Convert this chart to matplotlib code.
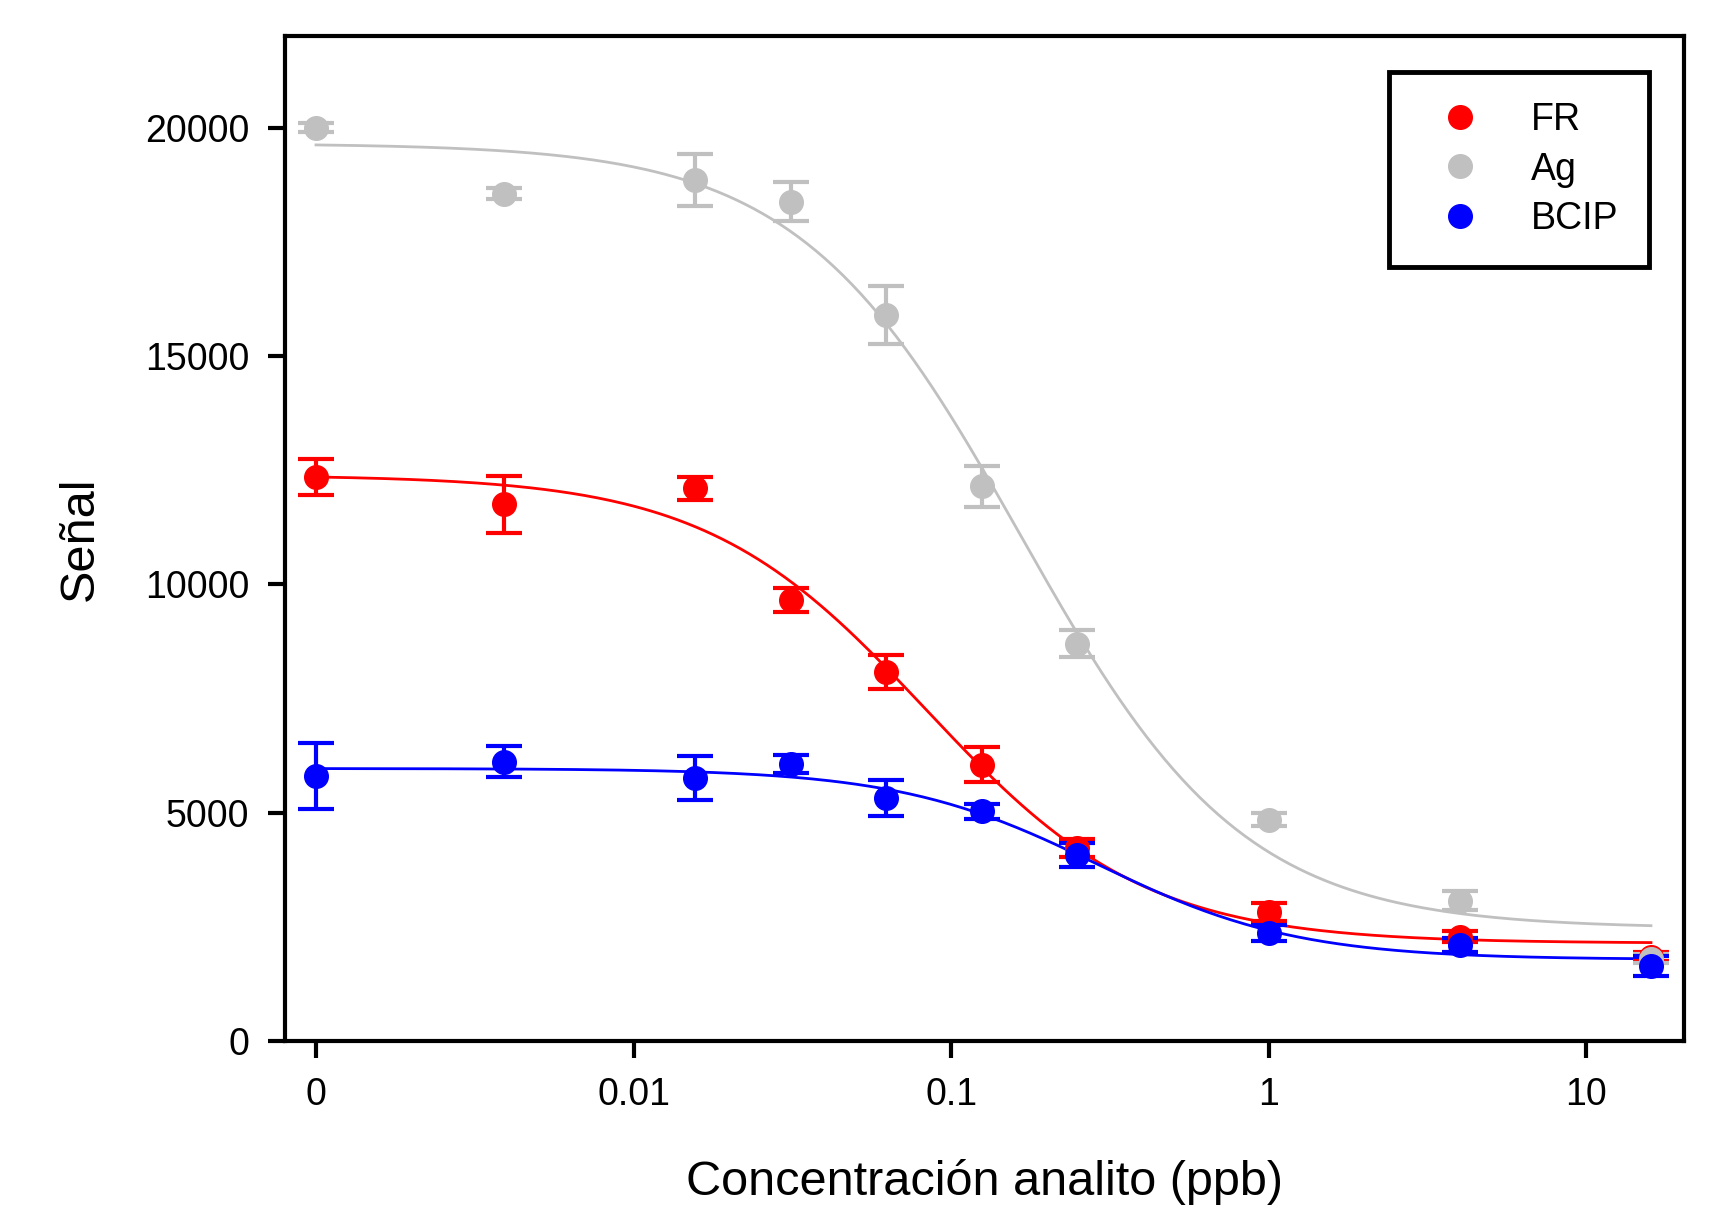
import numpy as np
import matplotlib
matplotlib.use('Agg')
import matplotlib.pyplot as plt
from matplotlib.lines import Line2D

plt.rcParams['font.family'] = ['Liberation Sans', 'DejaVu Sans']

# concentración (ppb); el "0" se dibuja en 0.001
conc = [0.001, 0.0039, 0.0156, 0.03125, 0.0625, 0.125, 0.25, 1, 4, 16]

fr = [12350, 11750, 12100, 9650, 8080, 6050, 4230, 2830, 2280, 1850]
fr_err = [400, 620, 260, 260, 380, 380, 200, 200, 120, 100]

ag = [20000, 18550, 18850, 18380, 15900, 12150, 8700, 4850, 3070, 1800]
ag_err = [100, 120, 575, 420, 630, 450, 290, 150, 210, 100]

bcip = [5800, 6120, 5760, 6060, 5320, 5030, 4070, 2360, 2110, 1640]
bcip_err = [730, 350, 480, 200, 400, 170, 260, 170, 150, 220]

series = [('FR', fr, fr_err, '#ff0000'),
          ('Ag', ag, ag_err, '#c0c0c0'),
          ('BCIP', bcip, bcip_err, '#0000ff')]


def fit_4pl(x, y):
    # ajuste logistico de 4 parametros: busqueda en rejilla + minimos cuadrados
    x = np.asarray(x, float)
    y = np.asarray(y, float)
    lc = np.linspace(-3, 1.3, 431)[:, None, None]
    h = np.linspace(0.3, 4, 371)[None, :, None]
    g = 1.0 / (1.0 + (x / 10.0 ** lc) ** h)
    gm = g.mean(axis=2, keepdims=True)
    ym = y.mean()
    slope = ((g - gm) * (y - ym)).sum(axis=2, keepdims=True) / ((g - gm) ** 2).sum(axis=2, keepdims=True)
    icpt = ym - slope * gm
    sse = ((y - (icpt + slope * g)) ** 2).sum(axis=2)
    i, j = np.unravel_index(np.argmin(sse), sse.shape)
    bottom = icpt[i, j, 0]
    top = bottom + slope[i, j, 0]
    return top, bottom, 10.0 ** lc[i, 0, 0], h[0, j, 0]


fig = plt.figure(figsize=(17.18, 12.07), dpi=100)
ax = fig.add_axes([0.166, 0.1375, 0.814, 0.8325])

xs = np.logspace(-3, np.log10(16), 300)
for name, y, e, c in series:
    top, bottom, ec50, hill = fit_4pl(conc, y)
    ax.plot(xs, bottom + (top - bottom) / (1 + (xs / ec50) ** hill), color=c, lw=2.0, zorder=2)
    ax.errorbar(conc, y, yerr=e, fmt='o', color=c, ms=17, mec=c, elinewidth=3,
                capsize=13, capthick=3, zorder=3)

ax.set_xscale('log')
ax.set_xlim(10 ** -3.097, 10 ** 1.307)
ax.set_ylim(0, 22000)
ax.set_xticks([0.001, 0.01, 0.1, 1, 10])
ax.set_xticklabels(['0', '0.01', '0.1', '1', '10'])
ax.xaxis.set_minor_locator(matplotlib.ticker.NullLocator())
ax.set_yticks([0, 5000, 10000, 15000, 20000])
ax.tick_params(axis='both', direction='out', length=12, width=3, labelsize=27, pad=14)
for s in ax.spines.values():
    s.set_linewidth(3)

ax.set_xlabel('Concentración analito (ppb)', fontsize=35, labelpad=33)
ax.set_ylabel('Señal', fontsize=35, labelpad=30)

handles = [Line2D([], [], ls='none', marker='o', ms=17, color=c) for _, _, _, c in series]
leg = ax.legend(handles, [s[0] for s in series], loc='upper right',
                bbox_to_anchor=(0.975, 0.964), borderaxespad=0, fontsize=27,
                frameon=True, fancybox=False, edgecolor='black', framealpha=1,
                handlelength=2.2, handletextpad=0.8, labelspacing=0.35,
                borderpad=0.8)
leg.get_frame().set_linewidth(3.5)

fig.savefig('out.png', dpi=100, facecolor='white')
